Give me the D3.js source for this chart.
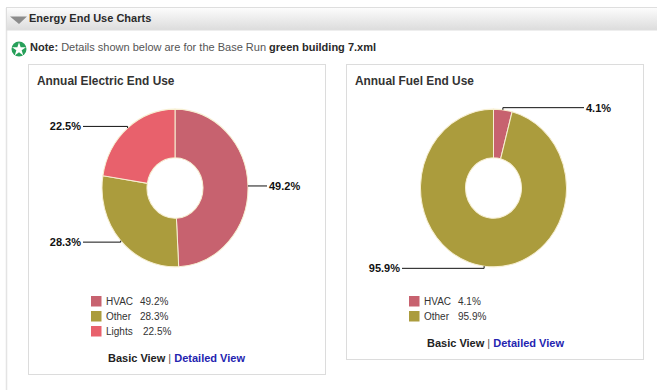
<!DOCTYPE html>
<html>
<head>
<meta charset="utf-8">
<script src="https://cdn.jsdelivr.net/npm/d3@7"></script>
<style>
html,body{margin:0;padding:0;background:#fff;overflow:hidden}
svg{display:block;font-family:"Liberation Sans",Arial,sans-serif}
</style>
</head>
<body>
<svg id="page" width="657" height="390"></svg>
<script>
// End use shares, in percent
const electricCategories = ["HVAC", "Other", "Lights"];
const electricValues = [49.2, 28.3, 22.5];
const fuelCategories = ["HVAC", "Other"];
const fuelValues = [4.1, 95.9];

const sliceColors = {HVAC: "#c7626f", Other: "#ab9c3d", Lights: "#e8616c"};
const outerR = 73, innerR = 28, elbowR = 75;
const squash = 1.08; // donuts are slightly taller than wide
const fmt = v => v.toFixed(1) + "%";

const svg = d3.select("#page");

// Section rule down the left side of the page
svg.append("line").attr("x1", 6.5).attr("x2", 6.5).attr("y1", 8).attr("y2", 390)
  .attr("stroke", "#e4e4e4").attr("stroke-width", 1.5);

// Section header bar
const defs = svg.append("defs");
const grad = defs.append("linearGradient").attr("id", "bar").attr("x1", 0).attr("x2", 0).attr("y1", 0).attr("y2", 1);
grad.append("stop").attr("offset", 0).attr("stop-color", "#fdfdfd");
grad.append("stop").attr("offset", 1).attr("stop-color", "#dcdcdc");
svg.append("rect").attr("x", 6.5).attr("y", 7.5).attr("width", 660).attr("height", 22.5)
  .attr("fill", "url(#bar)").attr("stroke", "#dedede");
svg.append("path").attr("d", "M10,16.5 L27,16.5 L19,24 Z").attr("fill", "#8b8b8b");
svg.append("text").attr("x", 29).attr("y", 22).attr("font-size", 11).attr("font-weight", "bold")
  .attr("fill", "#2a2a2a").text("Energy End Use Charts");

// Note line with its badge
svg.append("circle").attr("cx", 19).attr("cy", 49).attr("r", 7.5).attr("fill", "#27a05a");
svg.append("path")
  .attr("d", d3.symbol().type(d3.symbolStar).size(60)())
  .attr("transform", "translate(19,49.5)").attr("fill", "#fff");
const note = svg.append("text").attr("x", 30).attr("y", 51).attr("font-size", 11).attr("fill", "#555");
note.append("tspan").attr("font-weight", "bold").attr("fill", "#2a2a2a").text("Note:");
note.append("tspan").text(" Details shown below are for the Base Run ");
note.append("tspan").attr("font-weight", "bold").attr("fill", "#2a2a2a").text("green building 7.xml");

function drawPanel(cfg) {
  const g = svg.append("g");
  g.append("rect").attr("x", cfg.box[0] + .5).attr("y", cfg.box[1] + .5)
    .attr("width", cfg.box[2]).attr("height", cfg.box[3])
    .attr("fill", "#fff").attr("stroke", "#dcdcdc");
  g.append("text").attr("x", cfg.box[0] + 9).attr("y", 85).attr("font-size", 11.9).attr("font-weight", "bold")
    .attr("fill", "#333").text(cfg.title);

  const rows = cfg.categories.map((c, i) => ({name: c, value: cfg.values[i]}));
  const pie = d3.pie().sort(null).value(d => d.value);
  const arcs = pie(rows);
  const arc = d3.arc().innerRadius(innerR).outerRadius(outerR);
  const plot = g.append("g").attr("transform", `translate(${cfg.cx},${cfg.cy})`);

  plot.append("g").attr("transform", `scale(1,${squash})`)
    .selectAll("path").data(arcs).join("path")
    .attr("d", arc).attr("fill", d => sliceColors[d.data.name])
    .attr("stroke", "#f7efd2").attr("stroke-width", 1);

  // Leader lines run from the slice edge to an elbow, then across to the label
  const onRing = (d, r) => {
    const a = (d.startAngle + d.endAngle) / 2;
    return [r * Math.sin(a), -r * squash * Math.cos(a)];
  };
  plot.selectAll("path.leader").data(arcs).join("path").attr("class", "leader")
    .attr("fill", "none").attr("stroke", "#111").attr("stroke-width", 1)
    .attr("d", (d, i) => {
      const p = onRing(d, outerR), q = onRing(d, elbowR);
      return d3.line()([p, [p[0], q[1]], [cfg.labelX[i] - cfg.cx, q[1]]]);
    });
  plot.selectAll("text.pct").data(arcs).join("text").attr("class", "pct")
    .attr("x", (d, i) => cfg.labelX[i] - cfg.cx + (cfg.labelAnchor[i] === "start" ? 2 : -2))
    .attr("y", d => onRing(d, elbowR)[1] + 4)
    .attr("text-anchor", (d, i) => cfg.labelAnchor[i])
    .attr("font-size", 11).attr("font-weight", "bold").attr("fill", "#111")
    .text(d => fmt(d.data.value));

  // Legend rows
  const legendY = d3.scalePoint().domain(cfg.categories).range([301, 301 + 15 * (cfg.categories.length - 1)]);
  const lg = g.selectAll("g.key").data(rows).join("g").attr("class", "key")
    .attr("transform", d => `translate(${cfg.legendX},${legendY(d.name)})`);
  lg.append("rect").attr("x", 0).attr("y", -5).attr("width", 10.5).attr("height", 10.5)
    .attr("fill", d => sliceColors[d.name]);
  lg.append("text").attr("x", 15).attr("y", 4).attr("font-size", 10).attr("fill", "#333").text(d => d.name);
  lg.append("text").attr("x", d => d.name === "Lights" ? 52 : 49).attr("y", 4)
    .attr("font-size", 10).attr("fill", "#333").text(d => fmt(d.value));

  // View switcher under the legend
  const links = g.append("text").attr("x", cfg.linksX).attr("y", cfg.linksY).attr("font-size", 11).attr("font-weight", "bold");
  links.append("tspan").attr("fill", "#222").text("Basic View");
  links.append("tspan").attr("fill", "#555").attr("font-weight", "normal").text(" | ");
  links.append("tspan").attr("fill", "#2424b0").text("Detailed View");
}

drawPanel({
  title: "Annual Electric End Use", categories: electricCategories, values: electricValues,
  box: [28, 64, 297, 310], cx: 175, cy: 188, labelX: [267, 83, 83], labelAnchor: ["start", "end", "end"],
  legendX: 91, linksX: 108, linksY: 362
});
drawPanel({
  title: "Annual Fuel End Use", categories: fuelCategories, values: fuelValues,
  box: [346, 64, 297, 295], cx: 493.5, cy: 188, labelX: [584, 402], labelAnchor: ["start", "end"],
  legendX: 409, linksX: 427, linksY: 347
});
</script>
</body>
</html>
